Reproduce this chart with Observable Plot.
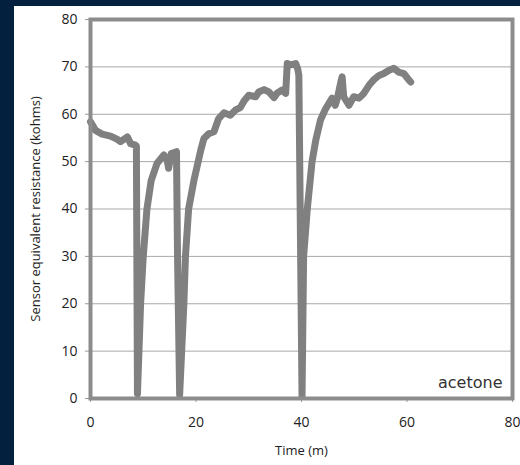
<!DOCTYPE html>
<html>
<head>
<meta charset="utf-8">
<script src="https://cdn.jsdelivr.net/npm/d3@7"></script>
<script src="https://cdn.jsdelivr.net/npm/@observablehq/plot@0.6"></script>
<style>
  html, body { margin: 0; padding: 0; background: #03203f; width: 520px; height: 465px; overflow: hidden; }
  #panel { position: absolute; left: 14px; top: 6px; width: 506px; height: 459px; background: #ffffff; }
  #panel svg { display: block; }
</style>
</head>
<body>
<div id="panel"></div>
<script>
const time = [0, 0.95, 2.2, 3.8, 5.1, 5.7, 7.0, 7.6, 8.5, 8.7, 8.9, 9.5, 10.0, 10.7, 11.5, 12.6, 13.9, 14.5, 14.8, 15.3, 16.3, 16.5, 16.9, 17.7, 18.0, 18.6, 19.6, 20.9, 21.5, 22.4, 23.4, 24.3, 25.3, 26.5, 27.5, 28.4, 29.1, 30.0, 31.3, 31.9, 32.9, 33.8, 34.8, 35.4, 36.3, 37.0, 37.3, 37.9, 38.9, 39.3, 39.5, 40.1, 40.4, 41.1, 42.0, 42.7, 43.6, 44.5, 45.2, 45.8, 46.4, 46.8, 47.5, 47.7, 48.0, 49.0, 49.9, 50.9, 51.8, 52.8, 53.7, 54.7, 55.6, 56.6, 57.5, 58.4, 59.4, 60.3, 60.7];
const resistance = [58.4, 56.6, 55.8, 55.4, 54.7, 54.2, 55.2, 53.8, 53.5, 53.3, 1.0, 20, 30, 40, 46, 49.6, 51.4, 50.5, 48.6, 51.7, 52.1, 30, 0.8, 20, 30, 40, 46, 52.4, 54.9, 55.9, 56.3, 59.1, 60.3, 59.8, 60.9, 61.4, 62.8, 64.0, 63.7, 64.7, 65.2, 64.7, 63.5, 64.5, 65.1, 64.4, 70.7, 70.4, 70.7, 69.5, 68.2, 0.4, 30, 40, 50, 54.5, 58.8, 61.0, 62.3, 63.4, 61.9, 63.4, 67.0, 67.9, 63.7, 61.9, 63.7, 63.4, 64.4, 66.1, 67.3, 68.2, 68.6, 69.3, 69.7, 68.9, 68.6, 67.3, 66.8];
const xTicks = [0, 20, 40, 60, 80];
const yTicks = [0, 10, 20, 30, 40, 50, 60, 70, 80];
const xLabel = "Time (m)";
const yLabel = "Sensor equivalent resistance (kohms)";
const seriesName = "acetone";

const data = time.map((t, i) => ({t, r: resistance[i]}));

const chart = Plot.plot({
  width: 506,
  height: 459,
  marginLeft: 76,
  marginRight: 8,
  marginTop: 13,
  marginBottom: 67,
  style: {background: "#ffffff", fontFamily: "'Open Sans', 'Liberation Sans', sans-serif", fontSize: "13px", color: "#222"},
  x: {domain: [0, 80]},
  y: {domain: [0, 80]},
  marks: [
    Plot.gridY(yTicks, {stroke: "#a8a8a8", strokeOpacity: 1, strokeWidth: 1}),
    Plot.axisY(yTicks, {tickSize: 5, tickPadding: 8, stroke: "#999", fontSize: 14, label: null}),
    Plot.axisX(xTicks, {tickSize: 4, tickPadding: 15, stroke: "#999", fontSize: 14, label: null}),
    Plot.text([yLabel], {text: d => d, frameAnchor: "left", rotate: -90, dx: -55, fontSize: 13, fill: "#222", lineAnchor: "middle", textAnchor: "middle"}),
    Plot.text([xLabel], {text: d => d, frameAnchor: "bottom", dy: 52, fontSize: 13, fill: "#222", lineAnchor: "middle"}),
    Plot.line(data, {x: "t", y: "r", stroke: "#808080", strokeWidth: 7, strokeLinejoin: "round", strokeLinecap: "round", curve: "linear"}),
    Plot.frame({stroke: "#8c8c8c", strokeWidth: 4}),
    Plot.text([seriesName], {text: d => d, frameAnchor: "bottom-right", dx: -10, dy: -11, fontSize: 16, fill: "#333", fontFamily: "'DejaVu Sans', sans-serif"})
  ]
});
document.getElementById("panel").appendChild(chart);
</script>
</body>
</html>
